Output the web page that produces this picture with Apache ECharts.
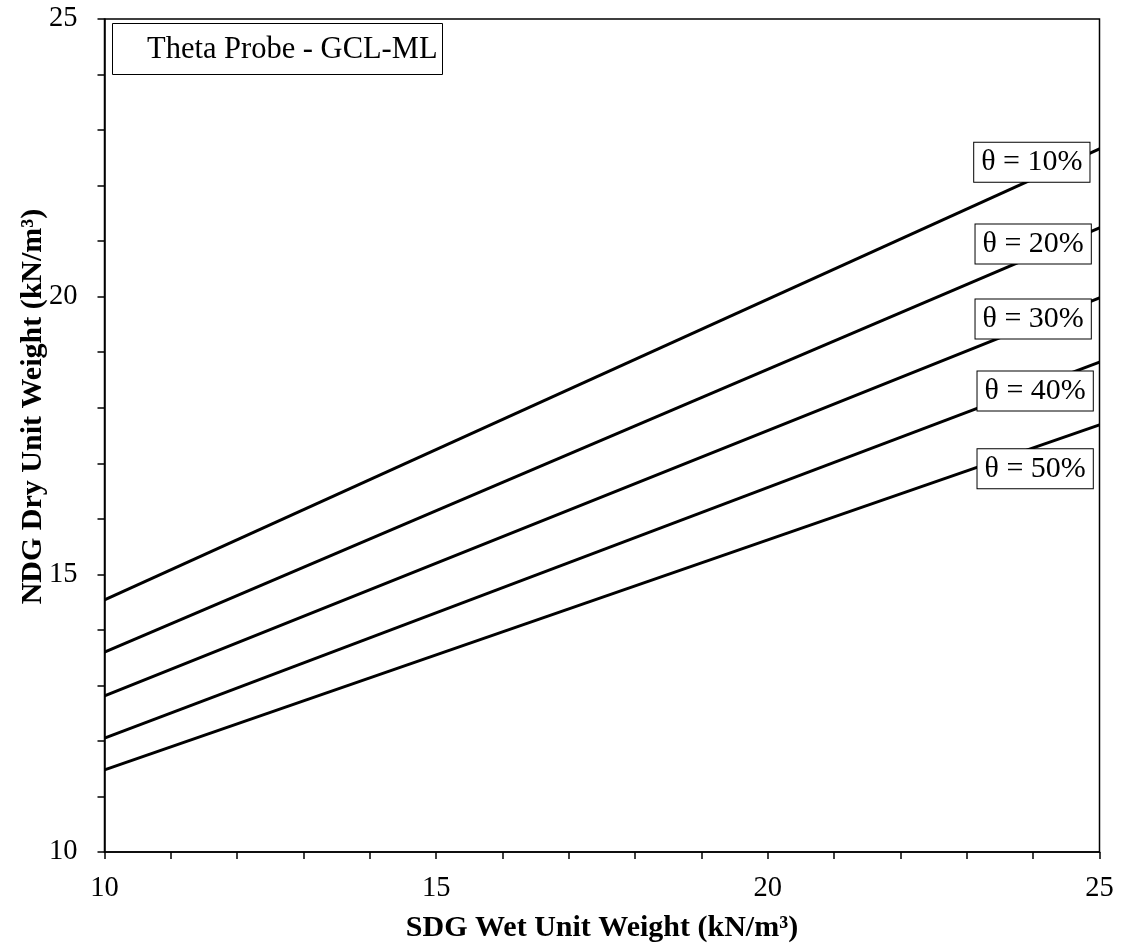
<!DOCTYPE html>
<html>
<head>
<meta charset="utf-8">
<script src="https://cdn.jsdelivr.net/npm/echarts@6/dist/echarts.min.js"></script>
<style>
html,body{margin:0;padding:0;background:#fff;}
#chart{width:1125px;height:951px;}
</style>
</head>
<body>
<div id="chart"></div>
<script>
// ---- data ----
const xEnds = [10, 25];
const theta10 = [14.54, 22.66];
const theta20 = [13.60, 21.24];
const theta30 = [12.81, 19.98];
const theta40 = [12.05, 18.82];
const theta50 = [11.48, 17.69];
const seriesNames = ['θ = 10%', 'θ = 20%', 'θ = 30%', 'θ = 40%', 'θ = 50%'];
const labelX = [23.98, 24.0, 24.0, 24.03, 24.03];
const labelY = [22.42, 20.95, 19.60, 18.30, 16.90];
const legendTitle = 'Theta Probe - GCL-ML';
const xName = 'SDG Wet Unit Weight (kN/m³)';
const yName = 'NDG Dry Unit Weight (kN/m³)';

const FONT = '"Liberation Serif", "Times New Roman", serif';
const allY = [theta10, theta20, theta30, theta40, theta50];

const series = allY.map((ys, i) => ({
  name: seriesNames[i],
  type: 'line',
  data: xEnds.map((x, j) => [x, ys[j]]),
  symbol: 'none',
  lineStyle: {color: '#000', width: 3},
  z: 2,
  silent: true
}));

series.push({
  type: 'scatter',
  data: labelX.map((x, i) => [x, labelY[i], seriesNames[i]]),
  symbolSize: 0,
  silent: true,
  z: 5,
  itemStyle: {opacity: 1, color: '#000'},
  label: {
    show: true,
    position: 'inside',
    formatter: p => p.value[2],
    fontFamily: FONT,
    fontSize: 30,
    lineHeight: 31,
    color: '#000',
    opacity: 1,
    backgroundColor: '#fff',
    borderColor: '#000',
    borderWidth: 1,
    padding: [5, 7, 3, 7]
  }
});

const chart = echarts.init(document.getElementById('chart'));
chart.setOption({
  animation: false,
  backgroundColor: '#fff',
  title: {
    text: legendTitle,
    left: 112,
    top: 23,
    padding: [10, 5, 9, 35],
    borderColor: '#000',
    borderWidth: 1,
    backgroundColor: '#fff',
    textStyle: {fontFamily: FONT, fontSize: 30.5, fontWeight: 'normal', color: '#000', lineHeight: 33}
  },
  grid: {
    left: 104.5, right: 25.5, top: 19, bottom: 99,
    show: true, borderColor: '#000', borderWidth: 1.5, backgroundColor: 'transparent'
  },
  xAxis: {
    type: 'value', min: 10, max: 25, interval: 5,
    name: xName, nameLocation: 'middle', nameGap: 61, nameMoveOverlap: false,
    nameTextStyle: {fontFamily: FONT, fontSize: 30, fontWeight: 'bold', color: '#000'},
    axisLine: {show: true, onZero: false, lineStyle: {color: '#000', width: 1.5}},
    axisTick: {show: true, inside: false, length: 7, lineStyle: {color: '#000', width: 1.5}},
    minorTick: {show: true, splitNumber: 5, length: 7, lineStyle: {color: '#000', width: 1.5}},
    axisLabel: {fontFamily: FONT, fontSize: 28.5, color: '#000', margin: 22},
    splitLine: {show: false}
  },
  yAxis: {
    type: 'value', min: 10, max: 25, interval: 5,
    name: yName, nameLocation: 'middle', nameGap: 56, nameRotate: 90, nameMoveOverlap: false,
    nameTextStyle: {fontFamily: FONT, fontSize: 30, fontWeight: 'bold', color: '#000', padding: [0, 0, 0, 58]},
    axisLine: {show: true, onZero: false, lineStyle: {color: '#000', width: 1.5}},
    axisTick: {show: true, inside: false, length: 7, lineStyle: {color: '#000', width: 1.5}},
    minorTick: {show: true, splitNumber: 5, length: 7, lineStyle: {color: '#000', width: 1.5}},
    axisLabel: {fontFamily: FONT, fontSize: 28.5, color: '#000', margin: 27},
    splitLine: {show: false}
  },
  series: series
});
</script>
</body>
</html>
